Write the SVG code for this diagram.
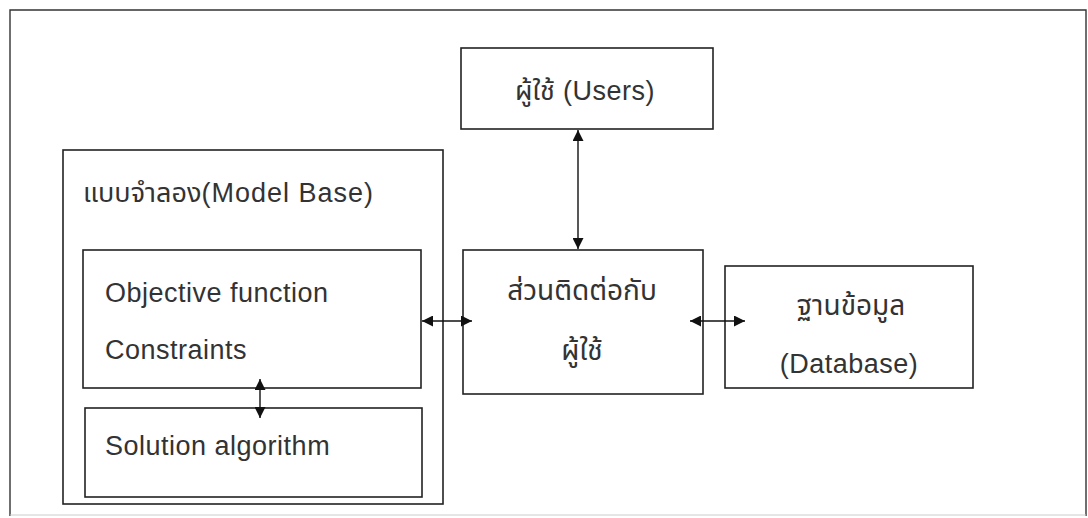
<svg xmlns="http://www.w3.org/2000/svg" width="1088" height="518" viewBox="0 0 1088 518">
<style>
.box{fill:none;stroke:#222;stroke-width:1.6}
.t{font-family:"Liberation Sans","Noto Sans Thai","Noto Sans",sans-serif;fill:#333;font-size:27px}
.e{letter-spacing:0.5px}
.th{font-size:28px}
.c{stroke:#111;stroke-width:1.4;fill:none}
</style>
<defs>
<marker id="ah" viewBox="0 0 10 10" refX="10" refY="5" markerWidth="11" markerHeight="11" markerUnits="userSpaceOnUse" orient="auto-start-reverse">
<path d="M0,0 L10,5 L0,10 z" fill="#111"/>
</marker>
</defs>
<rect width="1088" height="518" fill="#fff"/>
<g id="frame">
<path d="M10,516 V10 H1086 V516" fill="none" stroke="#333" stroke-width="1.4"/>
<line x1="10" y1="515" x2="1086" y2="515" stroke="#ccc" stroke-width="1"/>
</g>
<g id="users">
<rect class="box" x="461" y="48" width="252" height="81"/>
<text class="t" x="585" y="100" text-anchor="middle">ผู้ใช้<tspan class="e"> (Users)</tspan></text>
</g>
<g id="modelbase">
<rect class="box" x="63" y="150" width="380" height="354"/>
<text class="t" x="83" y="202">แบบจำลอง<tspan class="e" style="letter-spacing:1px">(Model Base)</tspan></text>
</g>
<g id="objective">
<rect class="box" x="83" y="250" width="338" height="138"/>
<text class="t e" x="105" y="302">Objective function</text>
<text class="t e" x="105" y="359">Constraints</text>
</g>
<g id="solution">
<rect class="box" x="85" y="408" width="337" height="89"/>
<text class="t e" x="105" y="455">Solution algorithm</text>
</g>
<g id="interface">
<rect class="box" x="463" y="250" width="240" height="144"/>
<text class="t th" x="582" y="300" text-anchor="middle">ส่วนติดต่อกับ</text>
<text class="t th" x="582" y="360" text-anchor="middle">ผู้ใช้</text>
</g>
<g id="database">
<rect class="box" x="725" y="266" width="248" height="122"/>
<text class="t th" x="851" y="315" text-anchor="middle">ฐานข้อมูล</text>
<text class="t e" x="849" y="373" text-anchor="middle">(Database)</text>
</g>
<g id="connectors">
<line class="c" x1="578" y1="130" x2="578" y2="249" marker-start="url(#ah)" marker-end="url(#ah)"/>
<line class="c" x1="422" y1="321" x2="472" y2="321" marker-start="url(#ah)" marker-end="url(#ah)"/>
<line class="c" x1="690" y1="321" x2="745" y2="321" marker-start="url(#ah)" marker-end="url(#ah)"/>
<line class="c" x1="260" y1="379" x2="260" y2="418" marker-start="url(#ah)" marker-end="url(#ah)"/>
</g>
</svg>
